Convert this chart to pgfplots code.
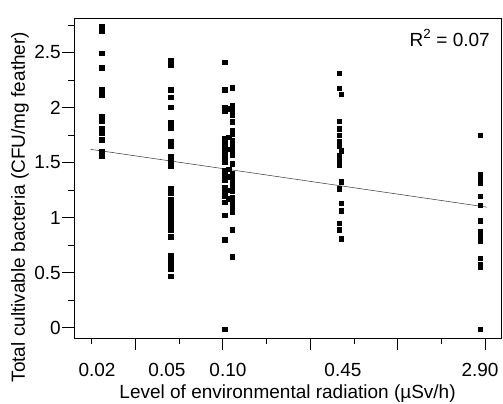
\documentclass[border=0pt]{standalone}
\usepackage{pgfplots}
\usepackage{pgfplotstable}
\pgfplotsset{compat=1.18}
\usepackage{fontspec}
\setmainfont{Liberation Sans}

% x is log10 of the radiation level; points within a level are jittered
\pgfplotstableread{
x y
-1.694 2.734
-1.694 2.698
-1.694 2.492
-1.694 2.361
-1.694 2.159
-1.694 2.113
-1.694 1.922
-1.694 1.880
-1.694 1.810
-1.694 1.765
-1.694 1.705
-1.694 1.599
-1.694 1.562
}\lvla
\pgfplotstableread{
x y
-1.299 2.431
-1.299 2.386
-1.299 2.159
-1.299 2.092
-1.299 2.001
-1.299 1.862
-1.299 1.817
-1.299 1.690
-1.299 1.653
-1.299 1.553
-1.299 1.508
-1.299 1.471
-1.299 1.265
-1.299 1.226
-1.299 1.160
-1.299 1.114
-1.299 1.069
-1.299 1.023
-1.299 0.978
-1.299 0.932
-1.299 0.887
-1.299 0.827
-1.299 0.660
-1.299 0.621
-1.299 0.578
-1.299 0.530
-1.299 0.469
}\lvlb
\pgfplotstableread{
x y
-0.989 2.41
-0.989 2.16
-0.989 2.00
-0.989 1.97
-0.989 1.72
-0.989 1.68
-0.989 1.63
-0.989 1.59
-0.989 1.55
-0.989 1.51
-0.989 1.43
-0.989 1.40
-0.989 1.37
-0.989 1.34
-0.989 1.27
-0.989 1.23
-0.989 1.20
-0.989 1.14
-0.989 1.02
-0.989 0.80
-0.989 -0.015
-0.947 2.18
-0.947 2.02
-0.947 1.98
-0.947 1.93
-0.947 1.87
-0.947 1.79
-0.947 1.76
-0.947 1.70
-0.947 1.65
-0.947 1.61
-0.947 1.57
-0.947 1.49
-0.947 1.40
-0.947 1.36
-0.947 1.32
-0.947 1.28
-0.947 1.24
-0.947 1.18
-0.947 1.14
-0.947 1.10
-0.947 1.05
-0.947 0.89
-0.947 0.645
-0.968 1.99
-0.968 1.73
-0.968 1.62
-0.968 1.44
-0.968 1.37
-0.968 1.25
-0.968 1.17
}\lvlc
\pgfplotstableread{
x y
-0.335 2.310
-0.335 2.174
-0.324 2.119
-0.335 1.877
-0.335 1.810
-0.335 1.750
-0.335 1.690
-0.335 1.650
-0.324 1.605
-0.335 1.560
-0.335 1.520
-0.335 1.480
-0.324 1.326
-0.335 1.263
-0.324 1.130
-0.324 1.063
-0.335 0.950
-0.335 0.890
-0.324 0.806
}\lvld
\pgfplotstableread{
x y
0.471 1.750
0.471 1.390
0.471 1.350
0.471 1.311
0.471 1.196
0.471 1.114
0.471 0.972
0.471 0.872
0.471 0.820
0.471 0.790
0.471 0.630
0.471 0.570
0.471 0.550
0.471 -0.015
}\lvle

\begin{document}
\fontsize{19bp}{22bp}\selectfont
\begin{tikzpicture}
\useasboundingbox (0,0) rectangle (503bp,404bp);
\begin{axis}[
  at={(74.3bp,65.7bp)}, anchor=south west,
  scale only axis,
  width=427.4bp, height=320bp,
  xmin=-1.850, xmax=0.595,
  ymin=-0.0963, ymax=2.810,
  axis line style={line width=1pt},
  tick style={black, line width=0.8pt},
  tick align=outside,
  xtick pos=bottom, ytick pos=left,
  major tick length=12bp, minor tick length=6bp,
  xtick={-1.5,-1,-0.5,0,0.5},
  minor xtick={-1.75,-1.25,-0.75,-0.25,0.25},
  xticklabels={},
  ytick={0,0.5,1,1.5,2,2.5},
  minor ytick={0.25,0.75,1.25,1.75,2.25,2.75},
  yticklabel style={xshift=5bp},
  extra x ticks={-1.720,-1.320,-0.971,-0.313,0.471},
  extra x tick labels={0.02,0.05,0.10,0.45,2.90},
  extra x tick style={major tick length=0pt, xticklabel style={yshift=-18bp}},
  /pgf/number format/assume math mode=true,
  tick label style={font=\fontsize{19bp}{22bp}\selectfont},
  label style={font=\fontsize{19bp}{22bp}\selectfont},
  xlabel={Level of environmental radiation (µSv/h)},
  ylabel={Total cultivable bacteria (CFU/mg feather)},
  xlabel style={at={(axis description cs:0.499,-0.172)}, anchor=center},
  ylabel style={at={(axis description cs:-0.127,0.41)}, anchor=center},
  clip=false,
  dots/.style={only marks, mark=square*, mark size=2.3bp, black},
]
\addplot[dots] table[x=x,y=y] {\lvla};
\addplot[dots] table[x=x,y=y] {\lvlb};
\addplot[dots] table[x=x,y=y] {\lvlc};
\addplot[dots] table[x=x,y=y] {\lvld};
\addplot[dots] table[x=x,y=y] {\lvle};
\addplot[sharp plot, no markers, black!75, line width=0.55pt] coordinates {(-1.757,1.620) (0.510,1.095)};
\node[anchor=north east, inner sep=0pt] at (axis description cs:0.9726,0.965) {R\textsuperscript{2} = 0.07};
\end{axis}
\end{tikzpicture}
\end{document}
